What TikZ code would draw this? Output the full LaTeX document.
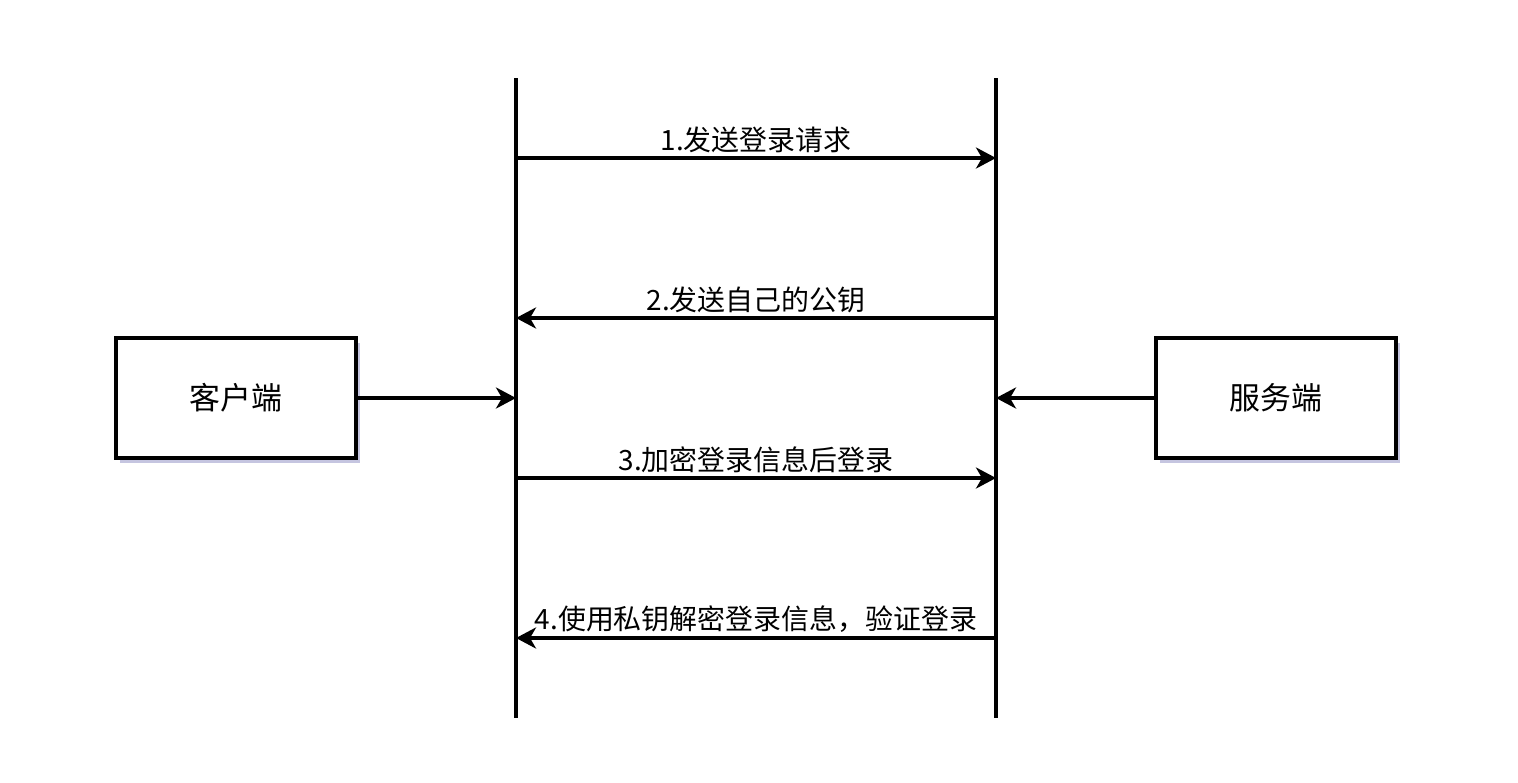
\documentclass[tikz,border=0pt]{standalone}
\usepackage{fontspec}
\setmainfont{Noto Sans CJK SC}
\usetikzlibrary{arrows.meta,positioning,shadows}

\begin{document}
\begin{tikzpicture}[x=0.02cm, y=-0.02cm, >={Stealth[length=0.4cm, width=0.42cm, inset=0.12cm]},
    lifeline/.style={line width=2.2pt},
    msg/.style={->, line width=2.2pt},
    msglabel/.style={above, inner sep=2pt, font=\fontsize{15.9}{18}\selectfont},
    party/.style={draw, line width=2.2pt, fill=white, minimum width=4.8cm, minimum height=2.4cm,
        font=\fontsize{17.6}{21}\selectfont, drop shadow={shadow xshift=0.08cm, shadow yshift=-0.1cm, opacity=0.35, fill=blue!30!gray}}]
    \useasboundingbox (0,0) rectangle (1518,782);

    % Lebenslinien
    \coordinate (cl-top) at (516,78);
    \coordinate (cl-bot) at (516,718);
    \coordinate (sv-top) at (996,78);
    \coordinate (sv-bot) at (996,718);
    \draw[lifeline] (cl-top) -- (cl-bot);
    \draw[lifeline] (sv-top) -- (sv-bot);

    % Teilnehmer
    \node[party] (client) at (236,398) {客户端};
    \node[party] (server) at (1276,398) {服务端};
    \coordinate (cl-in) at (516,398);
    \coordinate (sv-in) at (996,398);
    \draw[msg] (client.east) -- (cl-in);
    \draw[msg] (server.west) -- (sv-in);

    % Nachrichten
    \coordinate (m1-l) at (516,158);
    \coordinate (m1-r) at (996,158);
    \coordinate (m2-l) at (516,318);
    \coordinate (m2-r) at (996,318);
    \coordinate (m3-l) at (516,478);
    \coordinate (m3-r) at (996,478);
    \coordinate (m4-l) at (516,638);
    \coordinate (m4-r) at (996,638);

    \draw[msg] (m1-l) -- node[msglabel] {1.发送登录请求} (m1-r);
    \draw[msg] (m2-r) -- node[msglabel] {2.发送自己的公钥} (m2-l);
    \draw[msg] (m3-l) -- node[msglabel] {3.加密登录信息后登录} (m3-r);
    \draw[msg] (m4-r) -- node[msglabel] {4.使用私钥解密登录信息，验证登录} (m4-l);
\end{tikzpicture}
\end{document}
